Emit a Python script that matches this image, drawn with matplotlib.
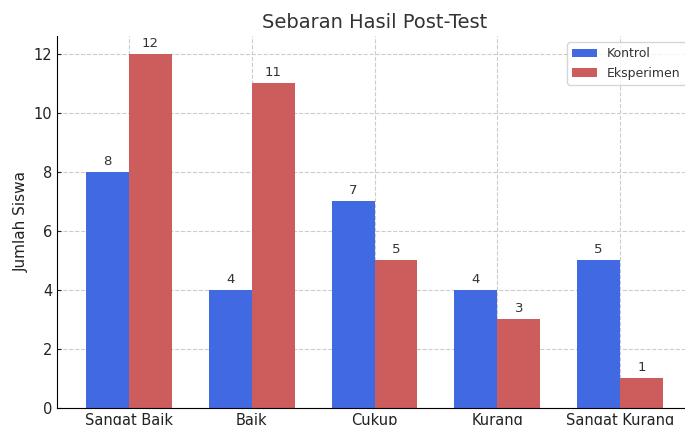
import matplotlib.pyplot as plt
import numpy as np

categories = ["Sangat Baik", "Baik", "Cukup", "Kurang", "Sangat Kurang"]
kontrol = [8, 4, 7, 4, 5]
eksperimen = [12, 11, 5, 3, 1]

x = np.arange(len(categories))
width = 0.35

fig = plt.figure(figsize=(6.85, 4.25), dpi=100)
# axes run past the right edge and bottom labels get clipped, like the reference crop
ax = fig.add_axes([57 / 685, 17 / 425, 635 / 685, 372 / 425])

b1 = ax.bar(x - width / 2, kontrol, width, label="Kontrol", color="royalblue")
b2 = ax.bar(x + width / 2, eksperimen, width, label="Eksperimen", color="indianred")

for bars in (b1, b2):
    for bar in bars:
        h = bar.get_height()
        ax.annotate(f"{h}", xy=(bar.get_x() + bar.get_width() / 2, h),
                    xytext=(0, 3), textcoords="offset points",
                    ha="center", va="bottom", fontsize=9.5, color="#333333")

ax.set_title("Sebaran Hasil Post-Test", fontsize=14, color="#333333")
ax.set_ylabel("Jumlah Siswa", fontsize=11, color="#222222", labelpad=3.5)
ax.set_xticks(x)
ax.set_xticklabels(categories, fontsize=10.5)
ax.tick_params(axis="y", labelsize=10.5)
ax.tick_params(colors="#222222", direction="in", length=3)
ax.grid(True, linestyle="--", color="#cccccc", linewidth=0.8)
ax.set_axisbelow(True)
ax.spines["top"].set_visible(False)
ax.spines["right"].set_visible(False)
ax.legend(loc="upper right", fontsize=9, labelcolor="#333333")

fig.savefig("out.png", dpi=100)
